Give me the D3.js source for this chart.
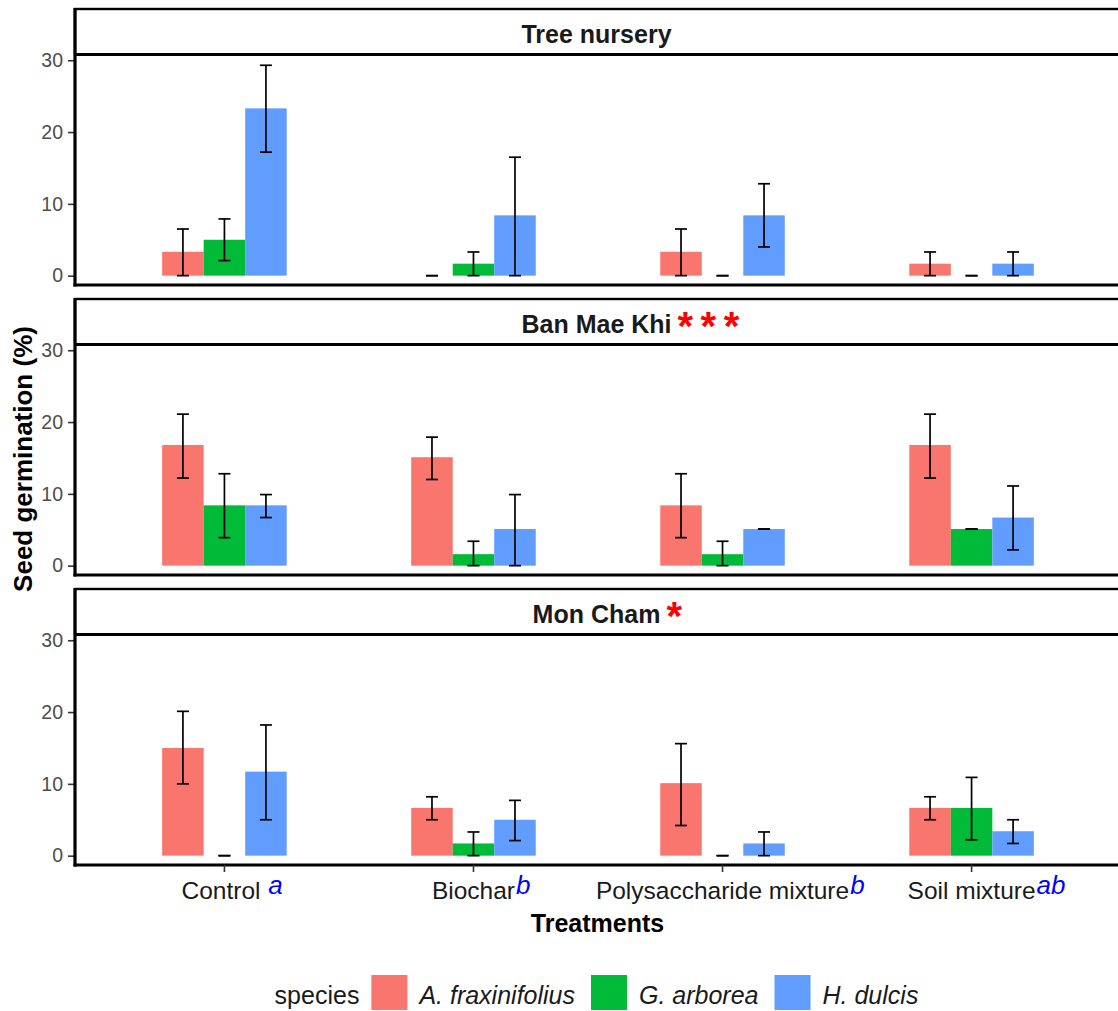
<!DOCTYPE html>
<html><head><meta charset="utf-8">
<script src="https://cdn.jsdelivr.net/npm/d3@7"></script>
<style>body{margin:0;background:#fff} svg{display:block}</style>
</head><body>
<svg id="chart" width="1118" height="1011"></svg>
<script>
const treatments = ["Control", "Biochar", "Polysaccharide mixture", "Soil mixture"];
const treatmentLabels = ["Control\u00A0", "Biochar", "Polysaccharide mixture", "Soil mixture"];
const treatmentLetters = ["a", "b", "b", "ab"];
const species = ["A. fraxinifolius", "G. arborea", "H. dulcis"];
const speciesColors = ["#F8766D", "#00BA38", "#619CFF"];
const sites = ["Tree nursery", "Ban Mae Khi", "Mon Cham"];
const siteStars = ["", "***", "*"];
const yTicks = [0, 10, 20, 30];

// rows: treatments, cols: species
const treeNurseryMean = [[3.33, 5.0, 23.3], [0, 1.67, 8.4], [3.33, 0, 8.4], [1.67, 0, 1.67]];
const treeNurseryLow  = [[0, 2.1, 17.2], [0, 0, 0], [0, 0, 4.0], [0, 0, 0]];
const treeNurseryHigh = [[6.5, 7.9, 29.3], [0, 3.3, 16.5], [6.5, 0, 12.8], [3.3, 0, 3.3]];

const banMaeKhiMean = [[16.8, 8.4, 8.4], [15.1, 1.6, 5.1], [8.4, 1.6, 5.1], [16.8, 5.1, 6.7]];
const banMaeKhiLow  = [[12.2, 3.9, 6.7], [12.0, 0, 0], [3.9, 0, 5.1], [12.2, 5.1, 2.2]];
const banMaeKhiHigh = [[21.1, 12.8, 9.9], [17.9, 3.4, 9.9], [12.8, 3.4, 5.1], [21.1, 5.1, 11.1]];

const monChamMean = [[15.0, 0, 11.7], [6.65, 1.7, 5.0], [10.1, 0, 1.7], [6.65, 6.65, 3.4]];
const monChamLow  = [[10.0, 0, 5.0], [5.0, 0, 2.1], [4.2, 0, 0], [5.0, 2.2, 1.7]];
const monChamHigh = [[20.1, 0, 18.2], [8.2, 3.3, 7.7], [15.6, 0, 3.3], [8.2, 10.9, 5.0]];

const siteMeans = [treeNurseryMean, banMaeKhiMean, monChamMean];
const siteLows = [treeNurseryLow, banMaeKhiLow, monChamLow];
const siteHighs = [treeNurseryHigh, banMaeKhiHigh, monChamHigh];

const FONT = "'Liberation Sans', Arial, Helvetica, sans-serif";
const svg = d3.select("#chart").style("font-family", FONT);

const plotLeft = 75, plotRight = 1121;
const x = d3.scaleBand().domain(treatments).range([plotLeft, plotRight]).paddingInner(0).paddingOuter(0.1);
const step = x.step();
const xs = d3.scaleBand().domain(species).range([-0.25 * step, 0.25 * step]);
const color = d3.scaleOrdinal().domain(species).range(speciesColors);

const firstTop = 9, panelGap = 290, stripH = 45.5, plotH = 230.5;
const capW = 12;

sites.forEach((site, k) => {
  const top = firstTop + panelGap * k;
  const pTop = top + stripH;
  const pBot = pTop + plotH;
  const y = d3.scaleLinear().domain([-1.3, 30.8]).range([pBot, pTop]);
  const g = svg.append("g");

  const recs = [];
  treatments.forEach((t, i) => species.forEach((s, j) => {
    recs.push({t, s, m: siteMeans[k][i][j], lo: siteLows[k][i][j], hi: siteHighs[k][i][j]});
  }));

  // bars
  g.selectAll("rect.bar").data(recs.filter(d => d.m > 0)).join("rect")
    .attr("class", "bar")
    .attr("x", d => x(d.t) + step / 2 + xs(d.s))
    .attr("width", xs.bandwidth())
    .attr("y", d => y(d.m))
    .attr("height", d => y(0) - y(d.m))
    .attr("fill", d => color(d.s));

  // error bars
  const eb = g.selectAll("g.eb").data(recs).join("g").attr("class", "eb")
    .attr("transform", d => `translate(${x(d.t) + step / 2 + xs(d.s) + xs.bandwidth() / 2},0)`)
    .attr("stroke", "#000").attr("stroke-width", 1.7);
  eb.append("line").attr("y1", d => y(d.lo)).attr("y2", d => y(d.hi));
  eb.append("line").attr("x1", -capW / 2).attr("x2", capW / 2).attr("y1", d => y(d.lo)).attr("y2", d => y(d.lo));
  eb.append("line").attr("x1", -capW / 2).attr("x2", capW / 2).attr("y1", d => y(d.hi)).attr("y2", d => y(d.hi));

  // y axis
  const ya = g.append("g").attr("transform", `translate(${plotLeft},0)`)
    .call(d3.axisLeft(y).tickValues(yTicks).tickSize(7).tickPadding(5));
  ya.select(".domain").remove();
  ya.selectAll(".tick line").attr("stroke", "#333").attr("stroke-width", 1.6);
  ya.selectAll(".tick text").attr("fill", "#4d4d4d").style("font-size", "19.5px").style("font-family", FONT);

  // strip
  g.append("rect").attr("x", plotLeft).attr("y", top).attr("width", plotRight - plotLeft + 4).attr("height", stripH)
    .attr("fill", "#fff").attr("stroke", "#000").attr("stroke-width", 2.4);
  g.append("line").attr("x1", plotLeft).attr("x2", plotRight + 4).attr("y1", pTop).attr("y2", pTop)
    .attr("stroke", "#000").attr("stroke-width", 2.8);
  // axis lines
  g.append("line").attr("x1", plotLeft).attr("x2", plotLeft).attr("y1", top - 1).attr("y2", pBot + 1.5)
    .attr("stroke", "#000").attr("stroke-width", 3.2);
  g.append("line").attr("x1", plotLeft - 1.5).attr("x2", plotRight + 4).attr("y1", pBot).attr("y2", pBot)
    .attr("stroke", "#000").attr("stroke-width", 3.2);

  // strip title
  const cx = (plotLeft + 1118) / 2;
  const title = g.append("text").attr("x", cx).attr("y", top + 33.5).attr("text-anchor", "middle")
    .style("font-size", "25px").style("font-weight", "bold").attr("fill", "#1a1a1a").text(site);
  if (siteStars[k]) {
    const tw = title.node().getComputedTextLength();
    g.append("text").attr("x", cx + tw / 2 + 6).attr("y", top + 40.5)
      .style("font-size", "40px").style("font-weight", "bold").style("letter-spacing", "7.5px")
      .attr("fill", "#ff0000").text(siteStars[k]);
  }

  // x axis for bottom panel
  if (k === sites.length - 1) {
    const xa = g.append("g").attr("transform", `translate(0,${pBot})`)
      .call(d3.axisBottom(x).tickSize(7).tickFormat(""));
    xa.select(".domain").remove();
    xa.selectAll(".tick line").attr("stroke", "#333").attr("stroke-width", 1.6);
    treatments.forEach((t, i) => {
      const tx = x(t) + step / 2;
      const lab = g.append("text").attr("x", tx).attr("y", pBot + 34).attr("text-anchor", "middle")
        .style("font-size", "24.5px").attr("fill", "#1a1a1a").text(treatmentLabels[i]);
      const w = lab.node().getComputedTextLength();
      g.append("text").attr("x", tx + w / 2 + 1).attr("y", pBot + 29)
        .style("font-size", "26px").style("font-style", "italic").attr("fill", "#0000ff")
        .text(treatmentLetters[i]);
    });
    g.append("text").attr("x", cx + 1).attr("y", pBot + 67).attr("text-anchor", "middle")
      .style("font-size", "25px").style("font-weight", "bold").attr("fill", "#000").text("Treatments");
  }
});

// y title
svg.append("text").attr("transform", "translate(32,459) rotate(-90)").attr("text-anchor", "middle")
  .style("font-size", "26px").style("font-weight", "bold").attr("fill", "#000").text("Seed germination (%)");

// legend
const leg = svg.append("g");
const legY = 1004, keyS = 36;
let cur = 0;
const spT = leg.append("text").attr("x", 0).attr("y", legY).style("font-size", "25px").attr("fill", "#1a1a1a").text("species");
cur = spT.node().getComputedTextLength() + 12;
species.forEach((s, j) => {
  leg.append("rect").attr("x", cur).attr("y", 975).attr("width", keyS).attr("height", 35).attr("fill", color(s));
  cur += keyS + 12;
  const t = leg.append("text").attr("x", cur).attr("y", legY).style("font-size", "25px")
    .style("font-style", "italic").attr("fill", "#1a1a1a").text(s);
  cur += t.node().getComputedTextLength();
  if (j < species.length - 1) cur += 16;
});
leg.attr("transform", `translate(${596.5 - cur / 2},0)`);
</script>
</body></html>
